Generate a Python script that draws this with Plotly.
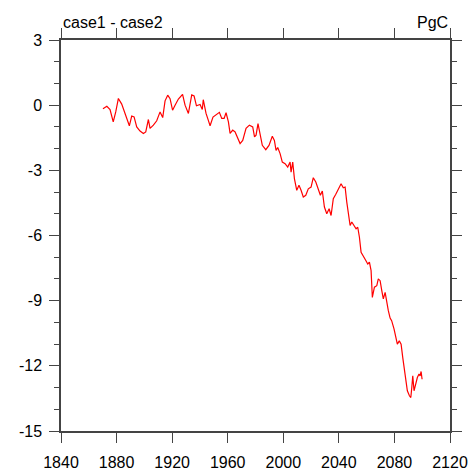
import plotly.graph_objects as go

# Difference in carbon between the two runs (PgC)
years = [
    1870.2, 1873.0, 1875.3, 1877.6, 1879.4, 1881.3, 1883.7, 1886.0, 1888.0, 1889.2,
    1890.9, 1892.6, 1894.5, 1896.9, 1899.3, 1901.0, 1902.9, 1904.1, 1906.5, 1908.9,
    1911.3, 1913.2, 1914.9, 1916.8, 1918.5, 1920.3, 1922.1, 1924.5, 1927.5, 1929.3,
    1931.7, 1934.1, 1935.8, 1937.5, 1940.1, 1941.7, 1942.4, 1944.4, 1946.0, 1947.3,
    1949.4, 1951.6, 1954.0, 1955.7, 1957.4, 1958.8, 1960.5, 1961.7, 1963.6, 1965.3,
    1967.2, 1968.9, 1970.8, 1973.2, 1975.6, 1978.0, 1979.3, 1980.4, 1981.8, 1983.3,
    1984.9, 1987.4, 1989.7, 1992.1, 1993.6, 1994.8, 1996.0, 1997.7, 1999.3, 2001.3,
    2003.2, 2004.9, 2005.6, 2006.8, 2008.0, 2009.7, 2011.3, 2012.8, 2014.4, 2016.2,
    2018.0, 2020.0, 2021.6, 2023.4, 2025.2, 2026.7, 2028.1, 2029.6, 2031.3, 2033.0,
    2034.4, 2036.0, 2037.8, 2039.5, 2041.6, 2043.2, 2044.5, 2045.7, 2046.8, 2048.1,
    2049.3, 2050.9, 2052.4, 2053.6, 2054.8, 2056.0, 2057.7, 2059.4, 2060.8, 2062.0,
    2063.2, 2064.1, 2065.6, 2067.3, 2068.4, 2069.7, 2070.9, 2072.0, 2073.3, 2074.5,
    2075.6, 2076.9, 2078.0, 2079.7, 2081.2, 2082.1, 2083.5, 2084.8, 2086.0, 2086.9,
    2088.1, 2089.3, 2090.8, 2091.8, 2092.5, 2093.2, 2094.1, 2095.3, 2096.5, 2097.7,
    2098.5, 2099.2, 2099.9,
]
diff_pgc = [
    -0.17, -0.05, -0.20, -0.77, -0.31, 0.31, 0.05, -0.38, -0.69, -0.95,
    -0.50, -0.54, -1.00, -1.19, -1.30, -1.23, -0.66, -1.07, -0.92, -0.72,
    -0.31, -0.57, 0.20, 0.46, 0.30, -0.23, 0.00, 0.28, 0.50, 0.00,
    -0.38, 0.47, 0.42, -0.03, 0.03, -0.20, 0.25, -0.38, -0.69, -0.95,
    -0.55, -0.46, -0.33, -0.61, -0.61, -0.35, -0.77, -1.30, -1.15, -1.23,
    -1.54, -1.77, -1.62, -1.07, -0.92, -1.00, -1.46, -1.38, -0.85, -1.30,
    -1.85, -2.05, -1.85, -1.43, -1.62, -2.08, -1.95, -2.23, -2.62, -2.69,
    -2.85, -2.62, -3.08, -2.62, -3.38, -3.92, -3.69, -3.92, -4.23, -4.15,
    -3.85, -3.77, -3.34, -3.54, -3.85, -4.15, -3.95, -4.69, -5.00, -4.77,
    -5.08, -4.31, -4.10, -3.90, -3.62, -3.80, -3.77, -4.46, -4.92, -5.54,
    -5.38, -5.54, -5.69, -5.62, -6.08, -6.77, -7.00, -7.15, -7.31, -7.23,
    -7.62, -8.85, -8.38, -8.31, -8.00, -8.08, -8.54, -8.92, -8.62, -9.15,
    -9.46, -9.80, -9.92, -10.30, -10.69, -11.00, -10.85, -11.00, -11.62, -12.08,
    -12.69, -13.15, -13.38, -13.46, -13.00, -12.46, -13.15, -12.85, -12.54, -12.38,
    -12.46, -12.26, -12.62,
]

x_ticks = [1840, 1880, 1920, 1960, 2000, 2040, 2080, 2120]
y_ticks = [3, 0, -3, -6, -9, -12, -15]

FONT = "Liberation Sans, Arial, Helvetica, sans-serif"
AXIS_COLOR = "#444444"

fig = go.Figure()
fig.add_trace(go.Scatter(
    x=years, y=diff_pgc, mode="lines",
    line=dict(color="#ff0000", width=1.2),
    showlegend=False, hoverinfo="skip",
))

axis_common = dict(
    showgrid=False, zeroline=False, automargin=False,
    showline=True, linecolor=AXIS_COLOR, linewidth=1.5,
    mirror="ticks", ticks="outside", ticklen=10, tickwidth=1.2,
    tickcolor=AXIS_COLOR,
    tickfont=dict(family=FONT, size=16, color="black"),
)

fig.update_xaxes(
    range=[1840, 2120], tickvals=x_ticks,
    ticktext=[str(v) for v in x_ticks],
    ticklabelstandoff=6,
    **axis_common,
)
fig.update_yaxes(
    range=[-15, 3], tickvals=y_ticks,
    ticktext=[str(v) for v in y_ticks],
    ticklabelstandoff=4,
    minor=dict(dtick=1, ticks="outside", ticklen=5, tickwidth=1,
               tickcolor=AXIS_COLOR, showgrid=False),
    **axis_common,
)

fig.add_annotation(
    text="case1 - case2", xref="paper", yref="paper", x=0, y=1,
    xanchor="left", yanchor="bottom", yshift=7, showarrow=False,
    font=dict(family=FONT, size=16, color="black"),
)
fig.add_annotation(
    text="PgC", xref="paper", yref="paper", x=1, y=1,
    xanchor="right", yanchor="bottom", yshift=7, showarrow=False,
    font=dict(family=FONT, size=16, color="black"),
)

fig.update_layout(
    width=471, height=470,
    margin=dict(l=61, r=21, t=40, b=39),
    paper_bgcolor="white", plot_bgcolor="white",
)

fig.write_html("out.html")
